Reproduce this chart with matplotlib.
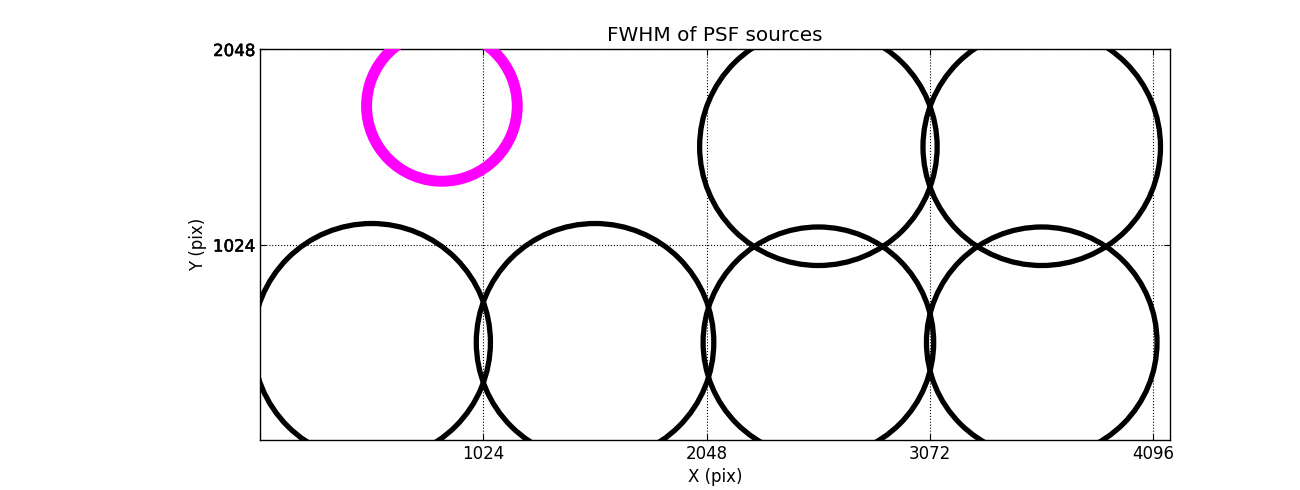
import matplotlib
matplotlib.use('Agg')
import matplotlib.pyplot as plt
import matplotlib.patheffects as pe

# source positions (pix) and FWHM (arbitrary units, scaled to marker size)
src_x = [512, 1536, 2560, 3584, 2560, 3584]
src_y = [512, 512, 512, 512, 1536, 1536]
src_fwhm = [3.42, 3.42, 3.32, 3.32, 3.42, 3.42]

# highlighted source
ref_x = [834]
ref_y = [1750]
ref_fwhm = [2.17]

x_ticks = [1024, 2048, 3072, 4096]
y_ticks = [1024, 2048]

scale = 50.0  # points per FWHM unit

fig = plt.figure(figsize=(13, 4.9), dpi=100)
ax = fig.add_axes([0.2, 0.102, 0.7, 0.798])

ax.scatter(src_x, src_y, s=[(scale * f) ** 2 for f in src_fwhm],
           facecolors='none', edgecolors='k', linewidths=3.8, zorder=3)
ax.scatter(ref_x, ref_y, s=[(scale * f) ** 2 for f in ref_fwhm],
           facecolors='none', edgecolors='#ff00ff', linewidths=7.9, zorder=3)

ax.set_xlim(0, 4172)
ax.set_ylim(0, 2048)
ax.set_xticks(x_ticks)
ax.set_yticks(y_ticks)
ax.tick_params(direction='in', top=True, right=True, length=4, width=0.8, labelsize=12)
ax.grid(True, linestyle=':', color='k', linewidth=0.8)
for sp in ax.spines.values():
    sp.set_linewidth(1.0)

# y tick labels look double-drawn in the original
for lab in ax.get_yticklabels():
    lab.set_path_effects([pe.withStroke(linewidth=0.4, foreground='k')])

ax.set_xlabel('X (pix)', fontsize=12)
ax.set_ylabel('Y (pix)', fontsize=12)
ax.set_title('FWHM of PSF sources', fontsize=14.4)

fig.savefig('out.png', dpi=100)
